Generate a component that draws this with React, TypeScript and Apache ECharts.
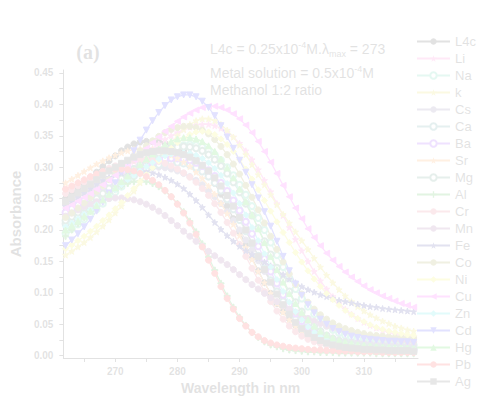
import React, { useEffect, useRef } from "react";
import * as echarts from "echarts";

// Wavelength grid (nm)
const wavelengths = [
  262, 263, 264, 265, 266, 267, 268, 269, 270, 271,
  272, 273, 274, 275, 276, 277, 278, 279, 280, 281,
  282, 283, 284, 285, 286, 287, 288, 289, 290, 291,
  292, 293, 294, 295, 296, 297, 298, 299, 300, 301,
  302, 303, 304, 305, 306, 307, 308, 309, 310, 311,
  312, 313, 314, 315, 316, 317, 318,
];

// Absorbance spectra
const L4c = [
  0.250, 0.258, 0.266, 0.274, 0.283, 0.292, 0.301, 0.310, 0.318, 0.326,
  0.332, 0.337, 0.340, 0.341, 0.341, 0.340, 0.338, 0.335, 0.331, 0.326,
  0.320, 0.312, 0.302, 0.289, 0.274, 0.257, 0.238, 0.218, 0.197, 0.176,
  0.155, 0.135, 0.116, 0.099, 0.083, 0.070, 0.058, 0.048, 0.040, 0.034,
  0.029, 0.025, 0.022, 0.019, 0.017, 0.015, 0.014, 0.013, 0.012, 0.011,
  0.010, 0.010, 0.009, 0.009, 0.008, 0.008, 0.008,
];
const Li = [
  0.245, 0.249, 0.254, 0.259, 0.264, 0.270, 0.276, 0.282, 0.288, 0.295,
  0.302, 0.309, 0.316, 0.323, 0.330, 0.337, 0.344, 0.350, 0.355, 0.360,
  0.364, 0.367, 0.368, 0.368, 0.366, 0.362, 0.356, 0.348, 0.338, 0.326,
  0.312, 0.296, 0.279, 0.261, 0.242, 0.223, 0.204, 0.185, 0.167, 0.150,
  0.134, 0.119, 0.106, 0.094, 0.083, 0.074, 0.066, 0.059, 0.053, 0.048,
  0.044, 0.040, 0.037, 0.034, 0.032, 0.030, 0.029,
];
const Na = [
  0.195, 0.202, 0.209, 0.217, 0.225, 0.233, 0.242, 0.251, 0.260, 0.269,
  0.278, 0.287, 0.295, 0.303, 0.311, 0.318, 0.324, 0.329, 0.333, 0.335,
  0.336, 0.335, 0.332, 0.327, 0.320, 0.311, 0.300, 0.287, 0.272, 0.256,
  0.238, 0.219, 0.200, 0.180, 0.160, 0.141, 0.123, 0.106, 0.091, 0.078,
  0.066, 0.056, 0.048, 0.041, 0.036, 0.032, 0.029, 0.026, 0.024, 0.022,
  0.021, 0.020, 0.019, 0.019, 0.018, 0.018, 0.017,
];
const K = [
  0.160, 0.166, 0.173, 0.180, 0.188, 0.197, 0.206, 0.216, 0.227, 0.238,
  0.250, 0.262, 0.275, 0.288, 0.301, 0.314, 0.327, 0.339, 0.350, 0.360,
  0.368, 0.374, 0.377, 0.377, 0.374, 0.368, 0.359, 0.348, 0.335, 0.320,
  0.304, 0.288, 0.272, 0.256, 0.240, 0.225, 0.211, 0.197, 0.183, 0.169,
  0.155, 0.141, 0.128, 0.116, 0.105, 0.095, 0.086, 0.078, 0.071, 0.065,
  0.060, 0.055, 0.051, 0.047, 0.044, 0.041, 0.039,
];
const Cs = [
  0.240, 0.246, 0.252, 0.258, 0.264, 0.270, 0.275, 0.280, 0.285, 0.289,
  0.293, 0.296, 0.298, 0.300, 0.300, 0.300, 0.299, 0.297, 0.294, 0.290,
  0.285, 0.279, 0.272, 0.263, 0.253, 0.242, 0.229, 0.215, 0.200, 0.184,
  0.168, 0.151, 0.134, 0.118, 0.102, 0.088, 0.075, 0.064, 0.054, 0.046,
  0.040, 0.035, 0.031, 0.028, 0.025, 0.023, 0.022, 0.021, 0.020, 0.019,
  0.018, 0.018, 0.017, 0.017, 0.016, 0.016, 0.016,
];
const Ca = [
  0.210, 0.216, 0.223, 0.230, 0.237, 0.244, 0.252, 0.259, 0.266, 0.273,
  0.280, 0.286, 0.292, 0.297, 0.301, 0.304, 0.306, 0.307, 0.307, 0.306,
  0.303, 0.299, 0.293, 0.285, 0.275, 0.263, 0.249, 0.233, 0.216, 0.198,
  0.179, 0.159, 0.139, 0.120, 0.102, 0.086, 0.071, 0.058, 0.047, 0.038,
  0.031, 0.025, 0.021, 0.018, 0.015, 0.013, 0.012, 0.011, 0.010, 0.010,
  0.009, 0.009, 0.008, 0.008, 0.008, 0.008, 0.007,
];
const Ba = [
  0.228, 0.234, 0.240, 0.247, 0.254, 0.261, 0.268, 0.275, 0.281, 0.287,
  0.292, 0.297, 0.301, 0.305, 0.308, 0.311, 0.313, 0.314, 0.314, 0.313,
  0.311, 0.307, 0.302, 0.295, 0.286, 0.275, 0.262, 0.247, 0.231, 0.213,
  0.194, 0.174, 0.154, 0.134, 0.115, 0.097, 0.081, 0.067, 0.055, 0.045,
  0.037, 0.031, 0.026, 0.022, 0.019, 0.017, 0.015, 0.014, 0.013, 0.012,
  0.012, 0.011, 0.011, 0.011, 0.010, 0.010, 0.010,
];
const Sr = [
  0.275, 0.281, 0.287, 0.293, 0.299, 0.305, 0.310, 0.315, 0.319, 0.323,
  0.326, 0.328, 0.329, 0.329, 0.328, 0.326, 0.323, 0.319, 0.314, 0.308,
  0.301, 0.292, 0.282, 0.270, 0.257, 0.242, 0.226, 0.209, 0.191, 0.172,
  0.153, 0.134, 0.116, 0.099, 0.083, 0.069, 0.057, 0.047, 0.039, 0.032,
  0.027, 0.023, 0.020, 0.017, 0.015, 0.014, 0.013, 0.012, 0.011, 0.011,
  0.010, 0.010, 0.010, 0.009, 0.009, 0.009, 0.009,
];
const Mg = [
  0.215, 0.221, 0.228, 0.235, 0.242, 0.250, 0.258, 0.266, 0.274, 0.282,
  0.290, 0.297, 0.304, 0.311, 0.317, 0.322, 0.327, 0.330, 0.332, 0.333,
  0.332, 0.330, 0.326, 0.320, 0.312, 0.302, 0.290, 0.276, 0.260, 0.242,
  0.223, 0.203, 0.182, 0.161, 0.140, 0.120, 0.102, 0.085, 0.070, 0.058,
  0.047, 0.039, 0.032, 0.027, 0.023, 0.020, 0.018, 0.016, 0.015, 0.014,
  0.013, 0.013, 0.012, 0.012, 0.012, 0.011, 0.011,
];
const Al = [
  0.190, 0.200, 0.210, 0.220, 0.230, 0.240, 0.249, 0.257, 0.264, 0.270,
  0.274, 0.277, 0.278, 0.277, 0.274, 0.269, 0.262, 0.253, 0.242, 0.229,
  0.214, 0.197, 0.178, 0.157, 0.136, 0.115, 0.095, 0.077, 0.061, 0.048,
  0.037, 0.029, 0.022, 0.017, 0.014, 0.011, 0.009, 0.008, 0.007, 0.006,
  0.006, 0.005, 0.005, 0.005, 0.004, 0.004, 0.004, 0.004, 0.004, 0.004,
  0.003, 0.003, 0.003, 0.003, 0.003, 0.003, 0.003,
];
const Cr = [
  0.258, 0.264, 0.270, 0.276, 0.282, 0.288, 0.293, 0.298, 0.302, 0.306,
  0.309, 0.311, 0.312, 0.312, 0.311, 0.309, 0.306, 0.302, 0.297, 0.291,
  0.284, 0.276, 0.266, 0.255, 0.242, 0.228, 0.212, 0.195, 0.177, 0.158,
  0.139, 0.120, 0.102, 0.086, 0.071, 0.058, 0.047, 0.038, 0.031, 0.026,
  0.022, 0.019, 0.016, 0.014, 0.013, 0.012, 0.011, 0.010, 0.009, 0.009,
  0.008, 0.008, 0.008, 0.007, 0.007, 0.007, 0.007,
];
const Mn = [
  0.222, 0.227, 0.232, 0.237, 0.241, 0.245, 0.248, 0.250, 0.251, 0.251,
  0.250, 0.248, 0.245, 0.241, 0.236, 0.230, 0.223, 0.215, 0.207, 0.198,
  0.190, 0.182, 0.174, 0.166, 0.159, 0.152, 0.145, 0.137, 0.129, 0.121,
  0.113, 0.106, 0.099, 0.092, 0.086, 0.080, 0.074, 0.069, 0.064, 0.059,
  0.055, 0.051, 0.047, 0.044, 0.041, 0.038, 0.036, 0.034, 0.032, 0.030,
  0.028, 0.027, 0.026, 0.025, 0.024, 0.023, 0.022,
];
const Fe = [
  0.238, 0.245, 0.252, 0.259, 0.266, 0.273, 0.279, 0.284, 0.288, 0.291,
  0.293, 0.294, 0.294, 0.293, 0.291, 0.288, 0.284, 0.279, 0.273, 0.266,
  0.257, 0.247, 0.236, 0.224, 0.212, 0.201, 0.191, 0.182, 0.174, 0.167,
  0.161, 0.155, 0.149, 0.143, 0.136, 0.129, 0.122, 0.116, 0.110, 0.105,
  0.101, 0.097, 0.094, 0.091, 0.088, 0.086, 0.084, 0.082, 0.080, 0.078,
  0.077, 0.075, 0.074, 0.073, 0.072, 0.071, 0.070,
];
const Co = [
  0.220, 0.227, 0.235, 0.243, 0.252, 0.261, 0.270, 0.280, 0.290, 0.299,
  0.308, 0.317, 0.326, 0.334, 0.342, 0.349, 0.355, 0.360, 0.363, 0.365,
  0.365, 0.363, 0.359, 0.353, 0.344, 0.333, 0.320, 0.305, 0.289, 0.271,
  0.252, 0.232, 0.211, 0.190, 0.169, 0.149, 0.130, 0.113, 0.098, 0.085,
  0.074, 0.065, 0.058, 0.052, 0.047, 0.043, 0.040, 0.037, 0.035, 0.033,
  0.032, 0.031, 0.030, 0.029, 0.029, 0.028, 0.028,
];
const Ni = [
  0.170, 0.176, 0.183, 0.190, 0.198, 0.206, 0.215, 0.224, 0.234, 0.244,
  0.255, 0.266, 0.277, 0.288, 0.299, 0.310, 0.320, 0.330, 0.339, 0.346,
  0.352, 0.356, 0.357, 0.356, 0.352, 0.345, 0.336, 0.325, 0.312, 0.297,
  0.281, 0.264, 0.247, 0.230, 0.213, 0.196, 0.180, 0.164, 0.149, 0.135,
  0.122, 0.110, 0.099, 0.089, 0.080, 0.072, 0.065, 0.059, 0.054, 0.049,
  0.045, 0.042, 0.039, 0.037, 0.035, 0.033, 0.032,
];
const Cu = [
  0.235, 0.240, 0.246, 0.252, 0.258, 0.265, 0.272, 0.279, 0.287, 0.295,
  0.303, 0.312, 0.321, 0.330, 0.339, 0.348, 0.357, 0.365, 0.373, 0.380,
  0.386, 0.391, 0.395, 0.397, 0.397, 0.395, 0.391, 0.385, 0.377, 0.367,
  0.355, 0.341, 0.325, 0.308, 0.290, 0.271, 0.253, 0.235, 0.218, 0.202,
  0.188, 0.175, 0.163, 0.152, 0.142, 0.133, 0.125, 0.118, 0.111, 0.105,
  0.100, 0.095, 0.091, 0.087, 0.083, 0.080, 0.077,
];
const Zn = [
  0.205, 0.211, 0.218, 0.225, 0.232, 0.240, 0.248, 0.256, 0.264, 0.272,
  0.280, 0.287, 0.294, 0.301, 0.307, 0.313, 0.318, 0.321, 0.323, 0.323,
  0.322, 0.319, 0.314, 0.307, 0.298, 0.287, 0.274, 0.259, 0.242, 0.224,
  0.204, 0.183, 0.162, 0.141, 0.121, 0.102, 0.085, 0.070, 0.057, 0.046,
  0.037, 0.030, 0.025, 0.021, 0.018, 0.016, 0.014, 0.013, 0.012, 0.011,
  0.011, 0.010, 0.010, 0.010, 0.009, 0.009, 0.009,
];
const Cd = [
  0.175, 0.184, 0.194, 0.205, 0.217, 0.230, 0.244, 0.259, 0.275, 0.292,
  0.309, 0.326, 0.343, 0.359, 0.374, 0.387, 0.398, 0.407, 0.412, 0.415,
  0.415, 0.412, 0.405, 0.395, 0.382, 0.366, 0.348, 0.330, 0.311, 0.292,
  0.272, 0.251, 0.229, 0.206, 0.182, 0.158, 0.135, 0.114, 0.096, 0.081,
  0.068, 0.058, 0.050, 0.043, 0.038, 0.034, 0.031, 0.029, 0.027, 0.026,
  0.025, 0.024, 0.023, 0.023, 0.022, 0.022, 0.021,
];
const Hg = [
  0.200, 0.207, 0.214, 0.222, 0.230, 0.239, 0.248, 0.257, 0.267, 0.277,
  0.286, 0.295, 0.304, 0.313, 0.321, 0.329, 0.336, 0.341, 0.345, 0.347,
  0.347, 0.345, 0.341, 0.334, 0.325, 0.313, 0.299, 0.283, 0.265, 0.245,
  0.224, 0.202, 0.180, 0.158, 0.137, 0.117, 0.099, 0.083, 0.069, 0.057,
  0.047, 0.039, 0.033, 0.028, 0.024, 0.021, 0.019, 0.017, 0.016, 0.015,
  0.014, 0.013, 0.013, 0.012, 0.012, 0.012, 0.011,
];
const Pb = [
  0.265, 0.270, 0.275, 0.280, 0.285, 0.289, 0.293, 0.295, 0.297, 0.297,
  0.296, 0.294, 0.290, 0.285, 0.279, 0.272, 0.263, 0.253, 0.241, 0.227,
  0.211, 0.193, 0.173, 0.152, 0.131, 0.110, 0.091, 0.074, 0.059, 0.047,
  0.037, 0.030, 0.024, 0.020, 0.017, 0.015, 0.013, 0.012, 0.011, 0.010,
  0.009, 0.009, 0.008, 0.008, 0.007, 0.007, 0.007, 0.006, 0.006, 0.006,
  0.006, 0.005, 0.005, 0.005, 0.005, 0.005, 0.005,
];
const Ag = [
  0.245, 0.252, 0.259, 0.266, 0.273, 0.280, 0.287, 0.294, 0.300, 0.306,
  0.311, 0.316, 0.320, 0.323, 0.325, 0.326, 0.326, 0.325, 0.323, 0.320,
  0.316, 0.310, 0.303, 0.294, 0.283, 0.270, 0.255, 0.238, 0.220, 0.200,
  0.179, 0.158, 0.137, 0.117, 0.098, 0.081, 0.066, 0.053, 0.043, 0.035,
  0.029, 0.024, 0.020, 0.017, 0.015, 0.013, 0.012, 0.011, 0.010, 0.010,
  0.009, 0.009, 0.008, 0.008, 0.008, 0.008, 0.007,
];

// Axis ticks
const xLabels = [270, 280, 290, 300, 310];
const xTicks = [265, 270, 275, 280, 285, 290, 295, 300, 305, 310, 315];
const yLabels = [0, 0.05, 0.1, 0.15, 0.2, 0.25, 0.3, 0.35, 0.4, 0.45];
const yTicks = [
  0, 0.025, 0.05, 0.075, 0.1, 0.125, 0.15, 0.175, 0.2, 0.225,
  0.25, 0.275, 0.3, 0.325, 0.35, 0.375, 0.4, 0.425, 0.45,
];

// Marker shapes
const STAR =
  "path://M5,0L6.2,3.6L10,3.6L6.9,5.9L8.1,9.5L5,7.3L1.9,9.5L3.1,5.9L0,3.6L3.8,3.6Z";
const DOWN_TRI = "path://M0,0L10,0L5,9Z";
const LEFT_TRI = "path://M0,5L9,0L9,10Z";
const PLUS =
  "path://M4,0L6,0L6,4L10,4L10,6L6,6L6,10L4,10L4,6L0,6L0,4L4,4Z";

const spectra = [
  { name: "L4c", data: L4c, color: "#000000", symbol: "circle" },
  { name: "Li", data: Li, color: "#ff40c0", symbol: STAR },
  { name: "Na", data: Na, color: "#20c890", symbol: "emptyCircle" },
  { name: "k", data: K, color: "#e0d000", symbol: STAR },
  { name: "Cs", data: Cs, color: "#5a4a8a", symbol: "circle" },
  { name: "Ca", data: Ca, color: "#208080", symbol: "emptyCircle" },
  { name: "Ba", data: Ba, color: "#7a00ff", symbol: "emptyCircle" },
  { name: "Sr", data: Sr, color: "#ff8000", symbol: STAR },
  { name: "Mg", data: Mg, color: "#2a7a5a", symbol: "emptyCircle" },
  { name: "Al", data: Al, color: "#00a000", symbol: PLUS },
  { name: "Cr", data: Cr, color: "#e04060", symbol: "circle" },
  { name: "Mn", data: Mn, color: "#803080", symbol: "circle" },
  { name: "Fe", data: Fe, color: "#000080", symbol: STAR },
  { name: "Co", data: Co, color: "#808000", symbol: "circle" },
  { name: "Ni", data: Ni, color: "#f0f000", symbol: "diamond" },
  { name: "Cu", data: Cu, color: "#ff00ff", symbol: LEFT_TRI },
  { name: "Zn", data: Zn, color: "#00e0e0", symbol: "diamond" },
  { name: "Cd", data: Cd, color: "#0000ff", symbol: DOWN_TRI },
  { name: "Hg", data: Hg, color: "#00d000", symbol: "triangle" },
  { name: "Pb", data: Pb, color: "#ff0000", symbol: "circle" },
  { name: "Ag", data: Ag, color: "#333333", symbol: "rect" },
];

const FONT = "'Liberation Sans', Arial, sans-serif";

export default function App() {
  const ref = useRef<HTMLDivElement>(null);

  useEffect(() => {
    if (!ref.current) return;
    const chart = echarts.init(ref.current, undefined, { renderer: "svg" });

    const series = spectra.map((s) => ({
      name: s.name,
      type: "line",
      data: wavelengths.map((w, i) => [w, s.data[i]]),
      symbol: s.symbol,
      symbolSize: 6,
      showSymbol: true,
      lineStyle: { color: s.color, width: 1.2 },
      itemStyle: { color: s.color, borderColor: s.color },
      emphasis: { disabled: true },
    }));

    chart.setOption({
      animation: false,
      backgroundColor: "#ffffff",
      grid: { left: 63, right: 60, top: 70, bottom: 39.3, containLabel: false },
      legend: {
        orient: "vertical",
        left: 416,
        top: 33,
        padding: 0,
        itemWidth: 33,
        itemHeight: 8,
        itemGap: 0,
        data: spectra.map((s) => s.name),
        textStyle: {
          fontFamily: FONT,
          fontSize: 13,
          color: "#000",
          lineHeight: 17,
        },
      },
      xAxis: {
        type: "value",
        min: 261.65,
        max: 318.7,
        name: "Wavelength in nm",
        nameLocation: "middle",
        nameGap: 23,
        nameTextStyle: {
          fontFamily: FONT,
          fontSize: 14,
          fontWeight: "bold",
          color: "#000",
          verticalAlign: "top",
        },
        axisLine: { onZero: false, lineStyle: { color: "#000", width: 1 } },
        axisTick: {
          customValues: xTicks,
          length: 4,
          lineStyle: { color: "#000" },
        },
        axisLabel: {
          customValues: xLabels,
          margin: 8,
          fontFamily: FONT,
          fontSize: 10,
          fontWeight: "bold",
          color: "#000",
        },
        splitLine: { show: false },
      },
      yAxis: {
        type: "value",
        min: -0.0038,
        max: 0.4547,
        name: "Absorbance",
        nameLocation: "middle",
        nameGap: 32,
        nameTextStyle: {
          fontFamily: FONT,
          fontSize: 15,
          fontWeight: "bold",
          color: "#000",
        },
        axisLine: { show: true, lineStyle: { color: "#000", width: 1 } },
        axisTick: {
          show: true,
          customValues: yTicks,
          length: 4,
          lineStyle: { color: "#000" },
        },
        axisLabel: {
          customValues: yLabels,
          margin: 10,
          formatter: (v: number) => v.toFixed(2),
          fontFamily: FONT,
          fontSize: 10,
          fontWeight: "bold",
          color: "#000",
        },
        splitLine: { show: false },
      },
      graphic: [
        {
          type: "text",
          x: 88,
          y: 52,
          style: {
            text: "(a)",
            fontFamily: "'Liberation Serif', 'Times New Roman', serif",
            fontSize: 20,
            fontWeight: "bold",
            fill: "#000",
            align: "center",
            verticalAlign: "middle",
          },
        },
        {
          type: "text",
          x: 210,
          y: 49,
          style: {
            text: "L4c = 0.25x10{sup|-4}M.λ{sub|max} = 273",
            fontFamily: FONT,
            fontSize: 14,
            fill: "#000",
            verticalAlign: "middle",
            rich: {
              sup: {
                fontFamily: FONT,
                fontSize: 9,
                fill: "#000",
                verticalAlign: "top",
                lineHeight: 18,
                padding: [0, 0, 8, 0],
              },
              sub: {
                fontFamily: FONT,
                fontSize: 9,
                fill: "#000",
                verticalAlign: "bottom",
                lineHeight: 18,
              },
            },
          },
        },
        {
          type: "text",
          x: 210,
          y: 73,
          style: {
            text: "Metal solution = 0.5x10{sup|-4}M",
            fontFamily: FONT,
            fontSize: 14,
            fill: "#000",
            verticalAlign: "middle",
            rich: {
              sup: {
                fontFamily: FONT,
                fontSize: 9,
                fill: "#000",
                verticalAlign: "top",
                lineHeight: 18,
              },
            },
          },
        },
        {
          type: "text",
          x: 210,
          y: 90,
          style: {
            text: "Methanol 1:2 ratio",
            fontFamily: FONT,
            fontSize: 14,
            fill: "#000",
            verticalAlign: "middle",
          },
        },
      ],
      series,
    });

    return () => chart.dispose();
  }, []);

  return (
    <div
      style={{
        position: "fixed",
        left: 0,
        top: 0,
        width: 478,
        height: 400,
        background: "#ffffff",
      }}
    >
      <div ref={ref} style={{ width: 478, height: 400, opacity: 0.11 }} />
    </div>
  );
}
